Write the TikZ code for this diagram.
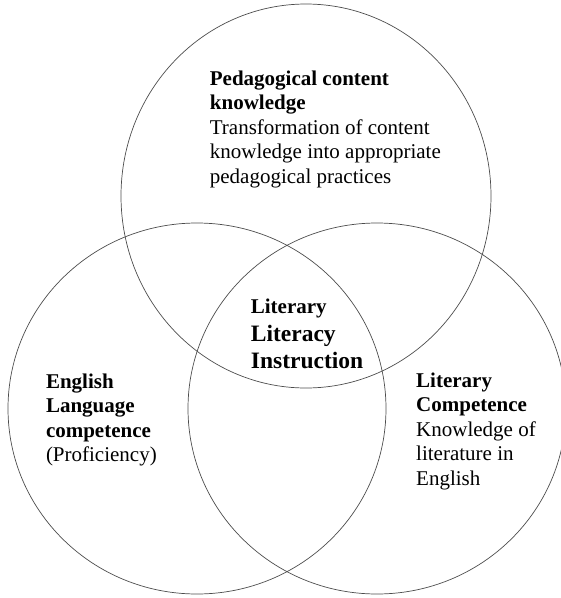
\documentclass[tikz,border=0pt]{standalone}
\usepackage{fontspec}
\setmainfont{Liberation Serif}
\usetikzlibrary{shapes.geometric}
\tikzset{ring/.style 2 args={draw=black!70,line width=0.7pt,ellipse,inner sep=0pt,
minimum width=#1,minimum height=#2},
blurb/.style={align=left,inner sep=0pt,anchor=base west,
font=\fontsize{21}{24.4}\selectfont}}
\newcommand{\hd}[1]{\textbf{#1}}

\begin{document}
\begin{tikzpicture}[x=1pt,y=-1pt]
    \useasboundingbox (0,0) rectangle (561,598);
    % circles
    \node[ring={370pt}{384pt}] (pck) at (306,196) {};
    \node[ring={378pt}{371pt}] (elc) at (197,408.5) {};
    \node[ring={378pt}{371pt}] (lc) at (377,408.5) {};
    % texts (base = last line)
    \node[blurb] (pck-text) at (209.7,183) {\hd{Pedagogical content}\\ \hd{knowledge}\\
        Transformation of content\\ knowledge into appropriate\\ pedagogical practices};
    \node[blurb,font=\bfseries\fontsize{23.5}{27.3}\selectfont] (lli-text) at (250.7,368.3)
        {{\fontsize{21}{24.4}\selectfont Literary}\\ Literacy\\ Instruction};
    \node[blurb] (elc-text) at (45.8,461.7) {\hd{English}\\ \hd{Language}\\ \hd{competence}\\ (Proficiency)};
    \node[blurb] (lc-text) at (416,485) {\hd{Literary}\\ \hd{Competence}\\ Knowledge of\\ literature in\\ English};
\end{tikzpicture}
\end{document}
